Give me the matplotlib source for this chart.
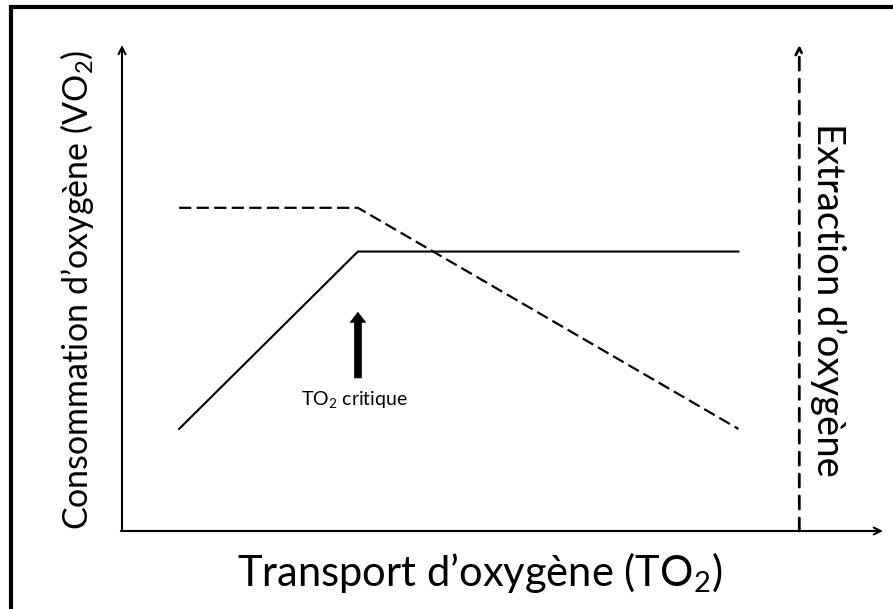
import matplotlib
matplotlib.use("Agg")
import matplotlib.pyplot as plt
from matplotlib.patches import Rectangle

plt.rcParams['font.family'] = ['Lato', 'DejaVu Sans']
plt.rcParams['mathtext.fontset'] = 'custom'
plt.rcParams['mathtext.rm'] = 'Lato'
plt.rcParams['mathtext.it'] = 'Lato'

# ---- data (schematic units) ----
vo2_x = [7.5, 31.0, 81.0]          # transport d'oxygène
vo2_y = [21.0, 57.5, 57.5]         # consommation d'oxygène (solid)
ext_x = [7.5, 31.0, 81.0]
ext_y = [66.5, 66.5, 21.0]         # extraction d'oxygène (dashed)
critical_x = 31.0
critical_arrow = [31.5, 45.0]      # bottom, top of the thick arrow
extraction_axis_x = 89.0
label_critical = "TO$_2$ critique"
xlabel = "Transport d’oxygène (TO$_2$)"
ylabel = "Consommation d’oxygène (VO$_2$)"
rlabel = "Extraction d’oxygène"

W, H = 893, 609
fig = plt.figure(figsize=(W / 100, H / 100), dpi=100)

# axes placed so that origin is at (122, 531) px and extends to (883, 45) px
x0, y0, x1, y1 = 122, 531, 883, 45
ax = fig.add_axes([x0 / W, 1 - y0 / H, (x1 - x0) / W, (y0 - y1) / H])
ax.set_xlim(0, 100)
ax.set_ylim(0, 100)
ax.axis('off')

# border frame (cut at right/bottom)
fig.patches.append(Rectangle((11 / W, -0.2), 1.5, 1.2 - 7 / H,
                             transform=fig.transFigure, fill=False,
                             lw=3.0, ec='black'))

# axes arrows
ax.annotate('', xy=(0, 100), xytext=(0, 0),
            arrowprops=dict(arrowstyle='->,head_length=0.5,head_width=0.25',
                            lw=1.5, color='black', shrinkA=0, shrinkB=0),
            annotation_clip=False)
ax.annotate('', xy=(100, 0), xytext=(-0.15, 0),
            arrowprops=dict(arrowstyle='->,head_length=0.5,head_width=0.25',
                            lw=1.5, color='black', shrinkA=0, shrinkB=0),
            annotation_clip=False)
ax.annotate('', xy=(extraction_axis_x, 100), xytext=(extraction_axis_x, 0),
            arrowprops=dict(arrowstyle='->,head_length=0.5,head_width=0.25',
                            lw=2.0, color='black', shrinkA=0, shrinkB=0,
                            linestyle=(0, (4.7, 3.2))),
            annotation_clip=False)

# curves
ax.plot(vo2_x, vo2_y, color='black', lw=1.5, solid_joinstyle='miter')
ax.plot(ext_x, ext_y, color='black', lw=1.6, linestyle=(0, (5.5, 2.4)))

# critical arrow
ax.annotate('', xy=(critical_x, critical_arrow[1]), xytext=(critical_x, critical_arrow[0]),
            arrowprops=dict(arrowstyle='simple,head_length=0.72,head_width=1.1,tail_width=0.5',
                            mutation_scale=10, fc='black', ec='black', lw=0.5,
                            shrinkA=0, shrinkB=0))
ax.text(critical_x - 0.4, 27.0, label_critical, ha='center', va='center', fontsize=14)

# labels
fig.text(480 / W, 1 - 586 / H, xlabel, ha='center', va='baseline', fontsize=30)
fig.text(88 / W, 1 - 290 / H, ylabel, ha='center', va='baseline', fontsize=24.5,
         rotation=90, rotation_mode='anchor')
fig.text(828 / W, 1 - 300 / H, rlabel, ha='center', va='center', fontsize=27.5, rotation=-90)

fig.savefig('out.png', dpi=100)
